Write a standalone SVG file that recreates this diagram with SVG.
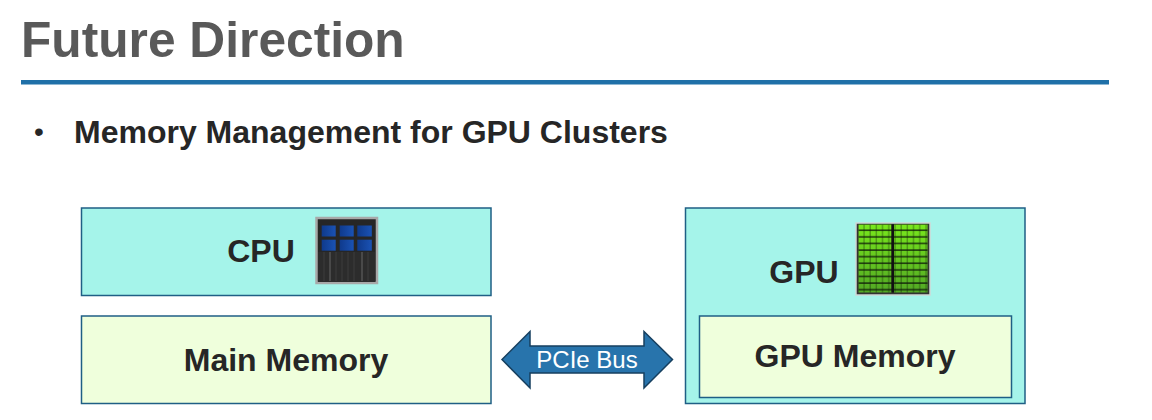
<svg xmlns="http://www.w3.org/2000/svg" width="1152" height="420" viewBox="0 0 1152 420">
<style>
text{font-family:"Liberation Sans",Arial,sans-serif;fill:#262626;text-anchor:middle}
.b{font-weight:700;font-size:32px}
.cy{fill:#a5f4ea;stroke:#1f5f85;stroke-width:1.5}
.gr{fill:#efffdc;stroke:#1f5f85;stroke-width:1.5}
.bl{fill:url(#blue)}
</style>
<defs>
<linearGradient id="blue" x1="0" x2="1"><stop offset="0" stop-color="#0f3a8c"/><stop offset="1" stop-color="#1a52b4"/></linearGradient>
<linearGradient id="gg" x1="0" x2="0" y1="0" y2="1"><stop offset="0" stop-color="#78e81c"/><stop offset="1" stop-color="#52a824"/></linearGradient>
<pattern id="cells" width="6.2" height="6.6" patternUnits="userSpaceOnUse" x="858.5" y="224.5"><rect x="0" y="5" width="6.2" height="1.6" fill="#0e1a08" fill-opacity=".8"/><rect x="4.8" y="0" width="1.4" height="6.6" fill="#0e1a08" fill-opacity=".35"/></pattern>
</defs>
<rect width="1152" height="420" fill="#fff"/>
<text x="21" y="57" style="font-size:49.700px;font-weight:700;fill:#595959;text-anchor:start">Future Direction</text>
<rect x="21" y="80" width="1088" height="4.500" fill="#1f70a8"/>
<text x="39" y="141" style="font-size:28px;text-anchor:middle">•</text>
<text x="74" y="143" style="font-size:32px;font-weight:700;text-anchor:start">Memory Management for GPU Clusters</text>
<g id="cpu">
<rect class="cy" x="81.500" y="208" width="409.500" height="87.500"/>
<text class="b" x="261" y="262">CPU</text>
<rect x="316.500" y="218" width="60.500" height="65" fill="#262626" stroke="#a8a8a8" stroke-width="2.500"/>
<rect x="318" y="252" width="57" height="30" fill="#2c2c2c"/>
<path d="M330 252V281M362 252V281" stroke="#666" stroke-width="1" fill="none"/>
<path d="M324 252V281M336 252V281M342 252V281M348 252V281M354 252V281M368 252V281" stroke="#3c3c3c" stroke-width="1" fill="none"/>
<rect class="bl" x="321.700" y="225.500" width="14" height="11"/>
<rect class="bl" x="339.700" y="225.500" width="14" height="11"/>
<rect class="bl" x="357.300" y="225.500" width="14.500" height="11"/>
<rect class="bl" x="321.700" y="239.700" width="14" height="11"/>
<rect class="bl" x="339.700" y="239.700" width="14" height="11"/>
<rect class="bl" x="357.300" y="239.700" width="14.500" height="11"/>
</g>
<g id="main-memory">
<rect class="gr" x="81.500" y="316" width="409.500" height="87.500"/>
<text class="b" x="286" y="371">Main Memory</text>
</g>
<g id="gpu">
<rect class="cy" x="685.500" y="208" width="339.500" height="195.500"/>
<text class="b" x="804" y="283">GPU</text>
<rect x="856" y="223" width="74" height="72" fill="#333" stroke="#d0d8d6" stroke-width="1.500"/>
<rect x="858.500" y="224.500" width="33" height="68" fill="url(#gg)"/>
<rect x="894" y="224.500" width="33.500" height="68" fill="url(#gg)"/>
<rect x="858.500" y="224.500" width="69" height="68" fill="url(#cells)"/>
<rect x="891.500" y="224.500" width="2.500" height="68" fill="#111"/>
</g>
<g id="gpu-memory">
<rect class="gr" x="699.500" y="316" width="312" height="81.500"/>
<text class="b" x="855" y="367">GPU Memory</text>
</g>
<g id="connectors">
<path id="pcie-arrow" d="M502 359.500L530 331.500V346H644V331.500L672.500 359.500L644 388V373H530V388Z" fill="#2874ac" stroke="#163f5f" stroke-width="1.500"/>
<text x="587" y="368" style="font-size:24px;fill:#fff">PCIe Bus</text>
</g>
</svg>
